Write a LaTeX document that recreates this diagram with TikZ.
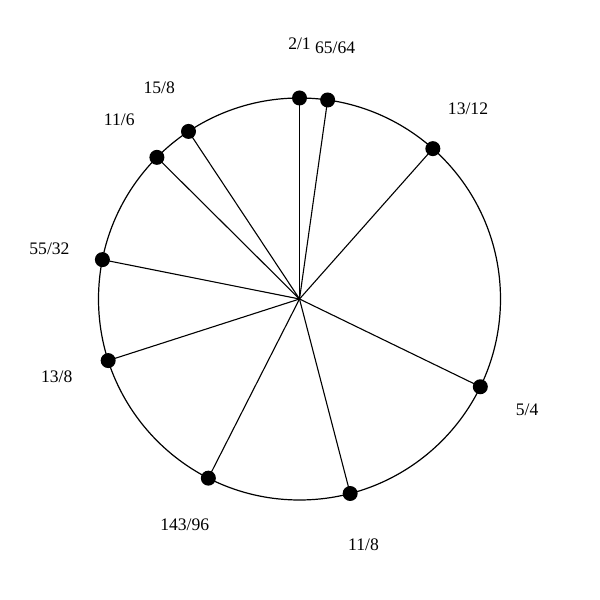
\documentclass[tikz,border=0pt]{standalone}
\usepackage{fontspec}
\setmainfont{Liberation Serif}
\usetikzlibrary{calc}
\begin{document}
\begin{tikzpicture}[x=1pt,y=1pt,
  dot/.style={circle,fill=black,inner sep=0pt,minimum size=15pt},
  lab/.style={inner sep=0pt,font=\fontsize{17.6}{20}\selectfont},
  spoke/.style={line width=1.1pt},
  ring/.style={line width=1.2pt}]
\useasboundingbox (0,0) rectangle (600,600);
\coordinate (c) at (299.5,301);
\draw[ring] (c) circle (201);
% points
\node[dot] (p1)  at ($(c)+(90:201)$) {};
\node[dot] (p2)  at ($(c)+(81.95:201)$) {};
\node[dot] (p3)  at ($(c)+(48.43:201)$) {};
\node[dot] (p4)  at ($(c)+(-25.89:201)$) {};
\node[dot] (p5)  at ($(c)+(-75.40:201)$) {};
\node[dot] (p6)  at ($(c)+(-116.97:201)$) {};
\node[dot] (p7)  at ($(c)+(-162.16:201)$) {};
\node[dot] (p8)  at ($(c)+(168.71:201)$) {};
\node[dot] (p9)  at ($(c)+(135.19:201)$) {};
\node[dot] (p10) at ($(c)+(123.52:201)$) {};
% spokes
\foreach \p in {p1,p2,p3,p4,p5,p6,p7,p8,p9,p10}
  \draw[spoke] (c) -- (\p.center);
% labels
\node[lab] (l1)  at ($(c)+(90:255)$) {2/1};
\node[lab] (l2)  at ($(c)+(81.95:254)$) {65/64};
\node[lab] (l3)  at ($(c)+(48.43:254)$) {13/12};
\node[lab] (l4)  at ($(c)+(-25.89:253)$) {5/4};
\node[lab] (l5)  at ($(c)+(-75.40:254)$) {11/8};
\node[lab] (l6)  at ($(c)+(-116.97:253)$) {143/96};
\node[lab] (l7)  at ($(c)+(-162.16:255)$) {13/8};
\node[lab] (l8)  at ($(c)+(168.71:255)$) {55/32};
\node[lab] (l9)  at ($(c)+(135.19:254)$) {11/6};
\node[lab] (l10) at ($(c)+(123.52:254)$) {15/8};
\end{tikzpicture}
\end{document}
